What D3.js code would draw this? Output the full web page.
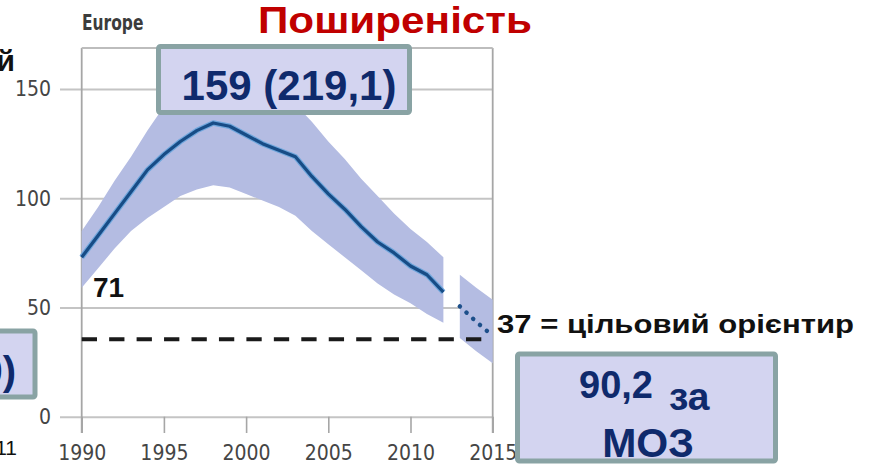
<!DOCTYPE html>
<html><head><meta charset="utf-8">
<script src="https://cdn.jsdelivr.net/npm/d3@7"></script>
<style>html,body{margin:0;padding:0;background:#fff;overflow:hidden}</style>
</head><body><svg id="c" width="874" height="470"></svg>
<script>
// ---- data ----
const years = [1990,1991,1992,1993,1994,1995,1996,1997,1998,1999,2000,2001,2002,2003,2004,2005,2006,2007,2008,2009,2010,2011,2012];
const central = [73,83,93,103,113,120,126,131,134.5,133,129,125,122,119,110,102,95,87,80,75,69,65,57];
const upper   = [85,96,108,119,131,142,150,157,162,161,157,152,148,143,135,126,118,109,101,93,86,80,73];
const lower   = [59,68,77,85,91,96,101,104,106,105,102,99,96,92,85,79,73,67,61,56,52,47,43];
const projYears   = [2013,2014,2015];
const projCentral = [50.5,43.5,37];
const projUpper   = [65,59,53.5];
const projLower   = [36,30,24.5];
const targetValue = 35.5;
const xTicks = [1990,1995,2000,2005,2010,2015];
const yTicks = [0,50,100,150];
const panelTitle = "Europe";
const mainTitle = "Поширеність";
const peakLabel = "159 (219,1)";
const startLabel = "71";
const targetLabel = "37 = цільовий орієнтир";
const mozLine1a = "90,2", mozLine1b = "за", mozLine2 = "МОЗ";

// ---- scales ----
const svg = d3.select("#c");
const x = d3.scaleLinear().domain([1990,2015]).range([81.7,492.7]);
const y = d3.scaleLinear().domain([0,150]).range([416.7,89.1]);
const frameTop = 48, tickBottom = 433;
const condensed = "'DejaVu Sans Condensed','DejaVu Sans',sans-serif";
const arial = "'Liberation Sans',Arial,sans-serif";

// ---- grid / y axis ----
const yAxis = svg.append("g").attr("transform","translate(60,0)")
  .call(d3.axisLeft(y).tickValues(yTicks).tickSize(-(x.range()[1]-60)).tickPadding(9).tickFormat(d3.format("d")));
yAxis.select(".domain").remove();
yAxis.selectAll("line").attr("stroke","#c4c4c4").attr("stroke-width",2);
yAxis.selectAll("text").attr("font-family",condensed).attr("font-size",21).attr("fill","#454545");

// ---- x axis ----
const xAxis = svg.append("g").attr("transform",`translate(0,${y(0)})`)
  .call(d3.axisBottom(x).tickValues(xTicks).tickSize(tickBottom-y(0)).tickPadding(12).tickFormat(d3.format("d")));
xAxis.select(".domain").remove();
xAxis.selectAll("line").attr("stroke","#a6a6a6").attr("stroke-width",1.6);
xAxis.selectAll("text").attr("font-family",condensed).attr("font-size",21).attr("fill","#454545");

// frame
svg.append("line").attr("x1",x(1990)).attr("x2",x(1990)).attr("y1",frameTop).attr("y2",tickBottom).attr("stroke","#a6a6a6").attr("stroke-width",1.8);
svg.append("line").attr("x1",x(2015)).attr("x2",x(2015)).attr("y1",frameTop).attr("y2",tickBottom).attr("stroke","#a6a6a6").attr("stroke-width",1.8);
svg.append("line").attr("x1",x(1990)).attr("x2",x(2015)).attr("y1",frameTop).attr("y2",frameTop).attr("stroke","#bdbdbd").attr("stroke-width",1.8);

// ---- bands ----
const hist = years.map((yr,i)=>({yr, c:central[i], u:upper[i], l:lower[i]}));
const proj = projYears.map((yr,i)=>({yr, c:projCentral[i], u:projUpper[i], l:projLower[i]}));
const area = d3.area().x(d=>x(d.yr)).y0(d=>y(d.l)).y1(d=>y(d.u));
const line = d3.line().x(d=>x(d.yr)).y(d=>y(d.c));
svg.append("path").attr("d",area(hist)).attr("fill","#b4bce2");
svg.append("path").attr("d",area(proj)).attr("fill","#b4bce2");

// target dashed line
svg.append("line").attr("x1",x(1990)).attr("x2",x(2015)).attr("y1",y(targetValue)).attr("y2",y(targetValue))
  .attr("stroke","#1a1a1a").attr("stroke-width",4).attr("stroke-dasharray","15.3,12.15");

// central line
svg.append("path").attr("d",line(hist)).attr("fill","none").attr("stroke","#6fa6dc").attr("stroke-width",5.5).attr("stroke-linejoin","round");
svg.append("path").attr("d",line(hist)).attr("fill","none").attr("stroke","#174c86").attr("stroke-width",3.2).attr("stroke-linejoin","round");
svg.append("path").attr("d",line(proj)).attr("fill","none").attr("stroke","#1d4f8a").attr("stroke-width",4.5)
  .attr("stroke-linecap","round").attr("stroke-dasharray","0.1,9");

// ---- texts ----
svg.append("text").attr("transform","translate(82,30) scale(0.8,1)").text(panelTitle)
  .attr("font-family",condensed).attr("font-weight","bold").attr("font-size",21.5).attr("fill","#3c3c3c");
svg.append("text").attr("x",258).attr("y",33).text(mainTitle)
  .attr("textLength",274).attr("lengthAdjust","spacingAndGlyphs")
  .attr("font-family",arial).attr("font-weight","bold").attr("font-size",37).attr("fill","#c00000");
svg.append("text").attr("x",93).attr("y",296.5).text(startLabel)
  .attr("font-family",arial).attr("font-weight","bold").attr("font-size",28).attr("fill","#111");
svg.append("text").attr("x",497).attr("y",333.3).text(targetLabel)
  .attr("textLength",357).attr("lengthAdjust","spacingAndGlyphs")
  .attr("font-family",arial).attr("font-weight","bold").attr("font-size",26).attr("fill","#111");

// cut-off fragments at left edge
svg.append("text").attr("x",15).attr("y",71).attr("text-anchor","end").text("й")
  .attr("font-family",arial).attr("font-weight","bold").attr("font-size",30).attr("fill","#111");
svg.append("text").attr("x",17).attr("y",455).attr("text-anchor","end").text("11")
  .attr("font-family",arial).attr("font-size",21).attr("fill","#111");

// ---- boxes ----
function box(x0,y0,w,h){
  svg.append("rect").attr("x",x0).attr("y",y0).attr("width",w).attr("height",h).attr("rx",2)
    .attr("fill","#d3d4f0").attr("stroke","#89a3a4").attr("stroke-width",5);
}
const navy = "#0f2a6c";
box(158.5,46.5,251,66);
svg.append("text").attr("x",289).attr("y",100).attr("text-anchor","middle").text(peakLabel)
  .attr("font-family",arial).attr("font-weight","bold").attr("font-size",42).attr("fill",navy);

box(-20,331,55,66);
svg.append("text").attr("x",16).attr("y",385).attr("text-anchor","end").text("0)")
  .attr("font-family",arial).attr("font-weight","bold").attr("font-size",40).attr("fill",navy);

box(517.5,354,258,107);
const t1 = svg.append("text").attr("x",579).attr("y",398.3)
  .attr("font-family",arial).attr("font-weight","bold").attr("fill",navy);
t1.append("tspan").attr("font-size",38).text(mozLine1a);
t1.append("tspan").attr("font-size",39).attr("x",669).attr("y",410).text(mozLine1b);
svg.append("text").attr("x",648).attr("y",456.7).attr("text-anchor","middle").text(mozLine2)
  .attr("font-family",arial).attr("font-weight","bold").attr("font-size",41).attr("fill",navy);
</script></body></html>
